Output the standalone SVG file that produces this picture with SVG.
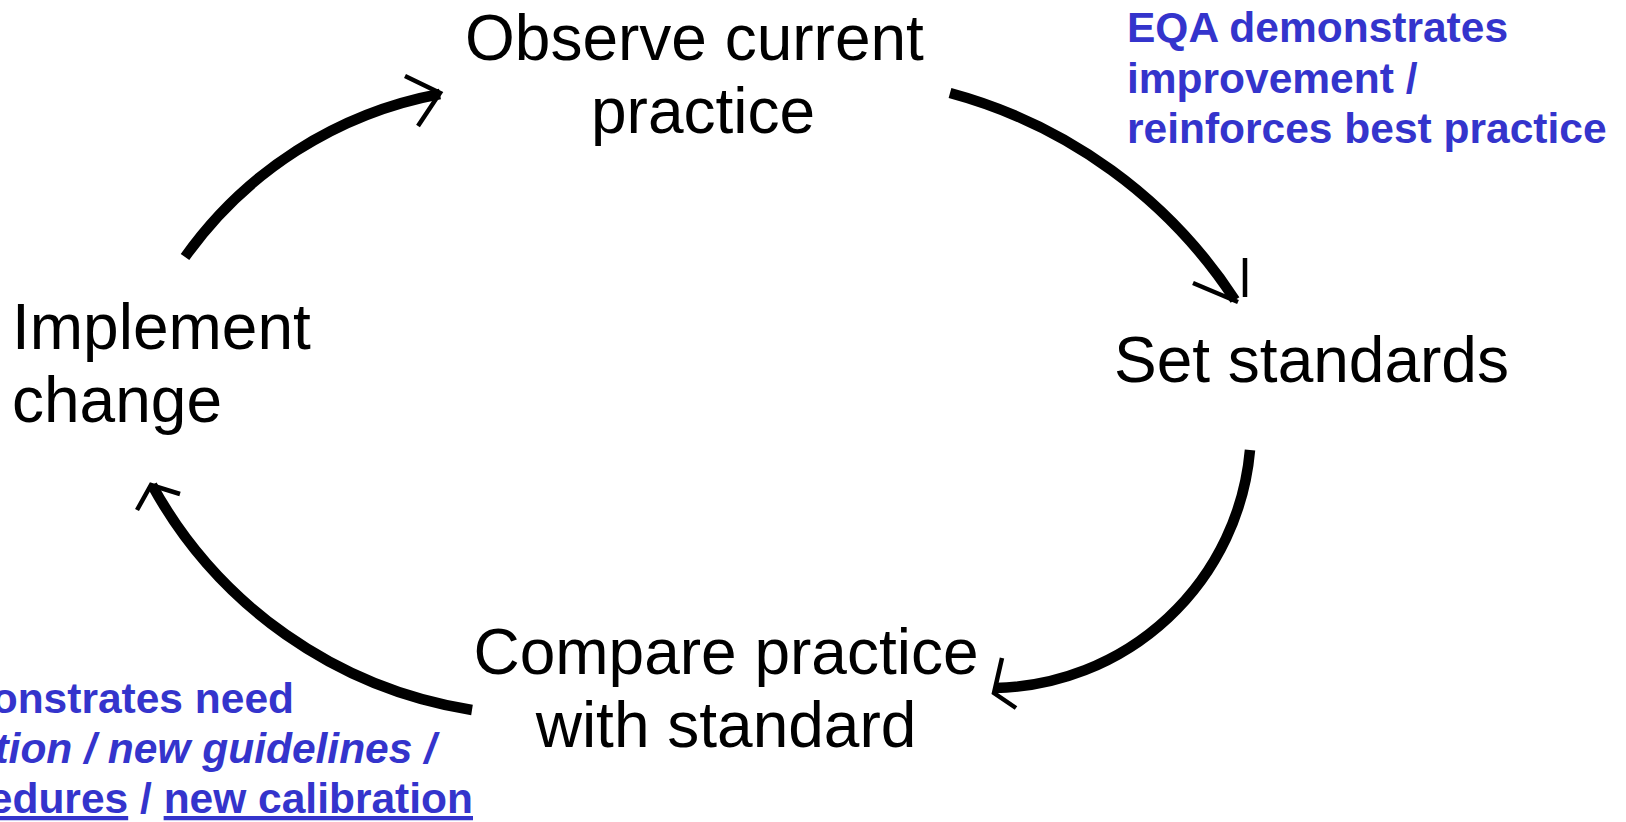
<svg xmlns="http://www.w3.org/2000/svg" width="1626" height="822" viewBox="0 0 1626 822">
<style>
.node{font-family:"Liberation Sans",Arial,sans-serif;font-size:64px;fill:#000}
.note{font-family:"Liberation Sans",Arial,sans-serif;font-size:42.5px;font-weight:bold;fill:#3434CC}
.arc{fill:none;stroke:#000;stroke-width:10.5;stroke-linecap:butt}
.head{fill:none;stroke:#000;stroke-width:4.5;stroke-linecap:butt;stroke-linejoin:miter}
</style>
<rect x="0" y="0" width="1626" height="822" fill="#fff"/>
<g id="connectors">
<path class="arc" d="M185,257 A403,403 0 0 1 440,94"/>
<polyline class="head" points="405,76 440,93 418,126"/>
<path class="arc" d="M950,93 A494,494 0 0 1 1235,300"/>
<polyline class="head" points="1193,283 1238,302"/>
<line class="head" x1="1245" y1="258" x2="1245" y2="297"/>
<path class="arc" d="M1250,450 A261,261 0 0 1 995,688"/>
<polyline class="head" points="1002,658 994,693 1016,708"/>
<path class="arc" d="M472,710 A444,444 0 0 1 152,485"/>
<polyline class="head" points="137,510 151,485 180,494"/>
</g>
<g id="observe">
<text class="node"><tspan x="465" y="60">Observe current</tspan><tspan x="591" y="133">practice</tspan></text>
</g>
<g id="set-standards">
<text class="node" x="1114" y="382">Set standards</text>
</g>
<g id="compare">
<text class="node" text-anchor="middle"><tspan x="726" y="674">Compare practice</tspan><tspan x="726" y="747">with standard</tspan></text>
</g>
<g id="implement">
<text class="node"><tspan x="12" y="349">Implement</tspan><tspan x="12" y="422">change</tspan></text>
</g>
<g id="note-top">
<text class="note"><tspan x="1127" y="42">EQA demonstrates</tspan><tspan x="1127" y="93">improvement /</tspan><tspan x="1127" y="143">reinforces best practice</tspan></text>
</g>
<g id="note-bottom">
<text class="note" text-anchor="end" x="294" y="713">onstrates need</text>
<text class="note" text-anchor="end" x="436" y="763" font-style="italic">tion / new guidelines /</text>
<text class="note" text-anchor="end" x="473" y="813"><tspan text-decoration="underline">edures</tspan> / <tspan text-decoration="underline">new calibration</tspan></text>
</g>
</svg>
